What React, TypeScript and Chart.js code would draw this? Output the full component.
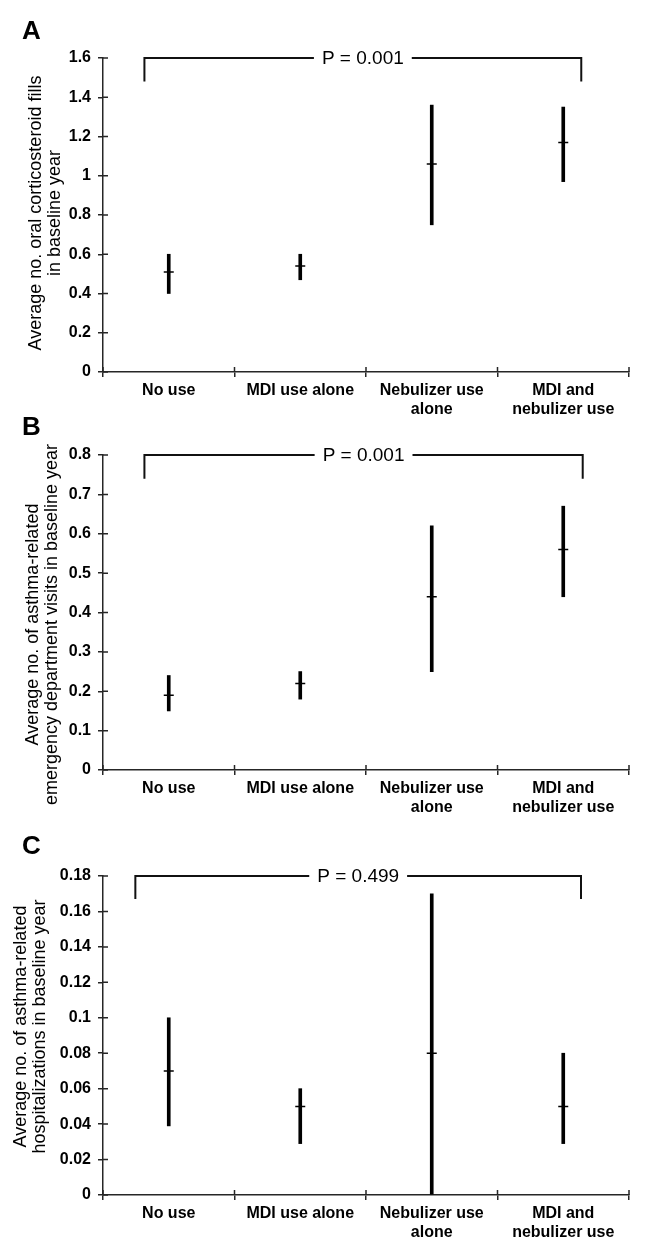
import React, { useEffect, useRef } from "react";
import { Chart, registerables } from "chart.js";

Chart.register(...registerables);

const FONT = '"Liberation Sans", Arial, Helvetica, sans-serif';

// ---------- data ----------
const categories: (string | string[])[] = [
  "No use",
  "MDI use alone",
  ["Nebulizer use", "alone"],
  ["MDI and", "nebulizer use"],
];

// Panel A
const meanA = [0.51, 0.54, 1.06, 1.17];
const lowA = [0.4, 0.47, 0.75, 0.97];
const highA = [0.6, 0.6, 1.36, 1.35];
const yTicksA = [0, 0.2, 0.4, 0.6, 0.8, 1, 1.2, 1.4, 1.6];
const yTickLabelsA = ["0", "0.2", "0.4", "0.6", "0.8", "1", "1.2", "1.4", "1.6"];
const titleA = ["Average no. oral corticosteroid fills", "in baseline year"];
const pTextA = "P = 0.001";
const bracketDropA = 1.48;

// Panel B
const meanB = [0.19, 0.22, 0.44, 0.56];
const lowB = [0.15, 0.18, 0.25, 0.44];
const highB = [0.24, 0.25, 0.62, 0.67];
const yTicksB = [0, 0.1, 0.2, 0.3, 0.4, 0.5, 0.6, 0.7, 0.8];
const yTickLabelsB = ["0", "0.1", "0.2", "0.3", "0.4", "0.5", "0.6", "0.7", "0.8"];
const titleB = ["Average no. of asthma-related", "emergency department visits in baseline year"];
const pTextB = "P = 0.001";
const bracketDropB = 0.74;

// Panel C
const meanC = [0.07, 0.05, 0.08, 0.05];
const lowC = [0.039, 0.029, 0, 0.029];
const highC = [0.1, 0.06, 0.17, 0.08];
const yTicksC = [0, 0.02, 0.04, 0.06, 0.08, 0.1, 0.12, 0.14, 0.16, 0.18];
const yTickLabelsC = ["0", "0.02", "0.04", "0.06", "0.08", "0.1", "0.12", "0.14", "0.16", "0.18"];
const titleC = ["Average no. of asthma-related", "hospitalizations in baseline year"];
const pTextC = "P = 0.499";
const bracketDropC = 0.167;

// ---------- layout (positions / styles) ----------
type PanelCfg = {
  letter: string;
  letterTop: number;
  top: number;
  height: number;
  areaTop: number;
  areaBottom: number;
  titleX: number;
  titleShift: number;
  mean: number[];
  low: number[];
  high: number[];
  yTicks: number[];
  yTickLabels: string[];
  title: string[];
  pText: string;
  bracketDrop: number;
  bracketLeft: number;
  bracketRight: number;
};

const AREA_LEFT = 103;
const AREA_RIGHT = 629;
const WIDTH = 645;
const TITLE_LINE = 19;

const panels: PanelCfg[] = [
  {
    letter: "A", letterTop: 16.5, top: 0, height: 430, areaTop: 58, areaBottom: 372, titleX: 36.5, titleShift: -2,
    mean: meanA, low: lowA, high: highA, yTicks: yTicksA, yTickLabels: yTickLabelsA, title: titleA,
    pText: pTextA, bracketDrop: bracketDropA, bracketLeft: -0.185, bracketRight: 3.137,
  },
  {
    letter: "B", letterTop: 413.3, top: 405, height: 430, areaTop: 50, areaBottom: 365, titleX: 33, titleShift: 12,
    mean: meanB, low: lowB, high: highB, yTicks: yTicksB, yTickLabels: yTickLabelsB, title: titleB,
    pText: pTextB, bracketDrop: bracketDropB, bracketLeft: -0.185, bracketRight: 3.148,
  },
  {
    letter: "C", letterTop: 831.5, top: 810, height: 441, areaTop: 66, areaBottom: 385, titleX: 21.5, titleShift: -9,
    mean: meanC, low: lowC, high: highC, yTicks: yTicksC, yTickLabels: yTickLabelsC, title: titleC,
    pText: pTextC, bracketDrop: bracketDropC, bracketLeft: -0.254, bracketRight: 3.135,
  },
];

const AXIS_COLOR = "#262626";

const innerTicksPlugin = {
  id: "innerTicks",
  afterDraw(chart: any) {
    const { ctx, chartArea } = chart;
    const x = chart.scales.x;
    const y = chart.scales.y;
    ctx.save();
    ctx.strokeStyle = AXIS_COLOR;
    ctx.lineWidth = 1.5;
    ctx.beginPath();
    for (let i = 0; i < y.ticks.length; i++) {
      const py = y.getPixelForTick(i);
      ctx.moveTo(chartArea.left, py);
      ctx.lineTo(chartArea.left + 5, py);
    }
    for (let i = 0; i <= x.ticks.length; i++) {
      const px = x.getPixelForValue(i - 0.5);
      ctx.moveTo(px, chartArea.bottom);
      ctx.lineTo(px, chartArea.bottom - 5);
    }
    ctx.stroke();
    ctx.restore();
  },
};

const yTitlePlugin = {
  id: "yTitle",
  afterDraw(chart: any, _args: any, opts: any) {
    if (!opts || !opts.lines) return;
    const { ctx, chartArea } = chart;
    const cy = (chartArea.top + chartArea.bottom) / 2 + opts.shift;
    ctx.save();
    ctx.font = `18px ${FONT}`;
    ctx.fillStyle = "#000";
    ctx.textAlign = "center";
    ctx.textBaseline = "middle";
    ctx.translate(opts.x, cy);
    ctx.rotate(-Math.PI / 2);
    opts.lines.forEach((line: string, i: number) => {
      ctx.fillText(line, 0, i * TITLE_LINE);
    });
    ctx.restore();
  },
};

const bracketPlugin = {
  id: "pBracket",
  afterDraw(chart: any, _args: any, opts: any) {
    if (!opts || !opts.text) return;
    const { ctx } = chart;
    const x = chart.scales.x;
    const y = chart.scales.y;
    const xL = x.getPixelForValue(opts.left);
    const xR = x.getPixelForValue(opts.right);
    const yTop = y.getPixelForValue(y.max);
    const yDrop = y.getPixelForValue(opts.drop);
    ctx.save();
    ctx.font = `19px ${FONT}`;
    const tw = ctx.measureText(opts.text).width;
    const cx = (xL + xR) / 2;
    const gap = 8;
    ctx.strokeStyle = "#111";
    ctx.lineWidth = 2;
    ctx.beginPath();
    ctx.moveTo(xL, yDrop);
    ctx.lineTo(xL, yTop);
    ctx.lineTo(cx - tw / 2 - gap, yTop);
    ctx.moveTo(cx + tw / 2 + gap, yTop);
    ctx.lineTo(xR, yTop);
    ctx.lineTo(xR, yDrop);
    ctx.stroke();
    ctx.fillStyle = "#000";
    ctx.textAlign = "center";
    ctx.textBaseline = "middle";
    ctx.fillText(opts.text, cx, yTop + 1);
    ctx.restore();
  },
};

function Panel({ cfg }: { cfg: PanelCfg }) {
  const ref = useRef<HTMLCanvasElement | null>(null);
  useEffect(() => {
    if (!ref.current) return;
    const yMax = cfg.yTicks[cfg.yTicks.length - 1];
    const chart = new Chart(ref.current, {
      type: "bar",
      data: {
        labels: categories as any,
        datasets: [
          {
            type: "line" as any,
            data: cfg.mean,
            showLine: false,
            pointStyle: "line",
            pointRadius: 5,
            pointBorderWidth: 1.5,
            borderColor: "#000",
            backgroundColor: "#000",
            order: 0,
          } as any,
          {
            type: "bar",
            data: cfg.low.map((lo, i) => [lo, cfg.high[i]]) as any,
            backgroundColor: "#000",
            borderWidth: 0,
            barThickness: 3,
            order: 1,
          },
        ],
      },
      options: {
        responsive: false,
        animation: false,
        events: [],
        layout: { padding: { top: cfg.areaTop, right: WIDTH - AREA_RIGHT, bottom: 0, left: 0 } },
        plugins: {
          legend: { display: false },
          tooltip: { enabled: false },
          pBracket: {
            text: cfg.pText,
            left: cfg.bracketLeft,
            right: cfg.bracketRight,
            drop: cfg.bracketDrop,
          },
          yTitle: { lines: cfg.title, x: cfg.titleX, shift: cfg.titleShift },
        } as any,
        scales: {
          x: {
            type: "category",
            offset: true,
            grid: {
              display: true,
              offset: true,
              drawOnChartArea: false,
              drawTicks: true,
              tickLength: 5,
              color: AXIS_COLOR,
              lineWidth: 1.5,
            },
            border: { display: true, color: AXIS_COLOR, width: 1.5 },
            ticks: {
              color: "#000",
              font: { family: FONT, size: 16, weight: "bold", lineHeight: 1.2 },
              padding: 4,
              maxRotation: 0,
              minRotation: 0,
              autoSkip: false,
            },
            afterFit: (s: any) => {
              s.height = cfg.height - cfg.areaBottom;
            },
          },
          y: {
            type: "linear",
            min: 0,
            max: yMax,
            grid: {
              display: true,
              drawOnChartArea: false,
              drawTicks: true,
              tickLength: 5,
              color: AXIS_COLOR,
              lineWidth: 1.5,
            },
            border: { display: true, color: AXIS_COLOR, width: 1.5 },
            ticks: {
              color: "#000",
              font: { family: FONT, size: 16, weight: "bold" },
              padding: 7,
              callback: (_v: any, i: number) => cfg.yTickLabels[i],
            },
            afterBuildTicks: (s: any) => {
              s.ticks = cfg.yTicks.map((v) => ({ value: v }));
            },
            title: { display: false },
            afterFit: (s: any) => {
              s.width = AREA_LEFT;
            },
          },
        },
      },
      plugins: [innerTicksPlugin, bracketPlugin, yTitlePlugin],
    });
    return () => chart.destroy();
  }, [cfg]);

  return (
    <>
      <canvas
        ref={ref}
        width={WIDTH}
        height={cfg.height}
        style={{ position: "absolute", left: 0, top: cfg.top, width: WIDTH, height: cfg.height, display: "block" }}
      />
      <div
        style={{
          position: "absolute",
          left: 22,
          top: cfg.letterTop,
          fontFamily: FONT,
          fontWeight: "bold",
          fontSize: 26,
          lineHeight: "26px",
          color: "#000",
        }}
      >
        {cfg.letter}
      </div>
    </>
  );
}

export default function App() {
  return (
    <div style={{ position: "absolute", left: 0, top: 0, width: WIDTH, height: 1251, background: "#fff", overflow: "hidden" }}>
      {panels.map((p) => (
        <Panel key={p.letter} cfg={p} />
      ))}
    </div>
  );
}
